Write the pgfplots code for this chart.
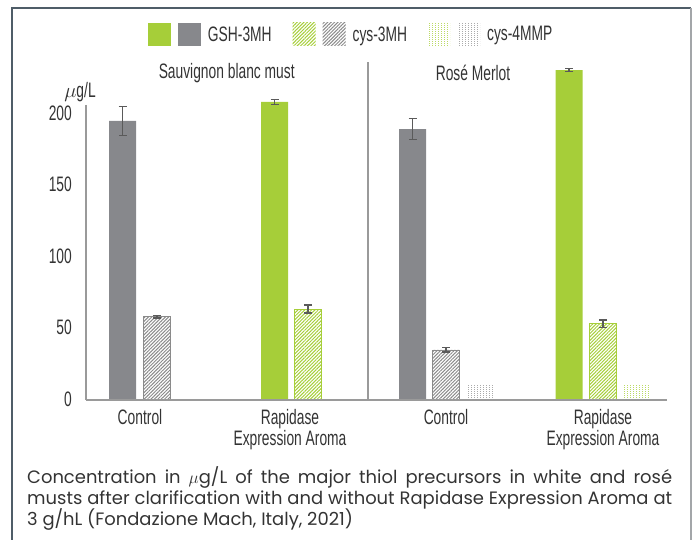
\documentclass[border=0pt]{standalone}
\usepackage{pgfplots}
\pgfplotsset{compat=1.18}
\usepackage{fontspec}
\setmainfont{Liberation Sans}
\newfontfamily\cond[FakeStretch=0.66]{Liberation Sans}
\newfontfamily\capfont{Poppins}
\usetikzlibrary{patterns,patterns.meta}
\definecolor{cgreen}{HTML}{A6CE39}
\definecolor{cgray}{HTML}{87888C}
\definecolor{sgreen}{HTML}{A6CE39}
\definecolor{sgray}{HTML}{8A8A8A}
\definecolor{dgreen}{HTML}{BCDA66}
\definecolor{dgray}{HTML}{ABABAB}
\definecolor{errc}{HTML}{5A5A5A}
\definecolor{txt}{HTML}{333333}
\definecolor{frameA}{HTML}{4F5D68}
\definecolor{frameB}{HTML}{A3A6A9}
\definecolor{axc}{HTML}{9A9A9A}
\tikzdeclarepattern{name=griddots, type=uncolored,
  bounding box={(0,0) and (3bp,1.6bp)}, tile size={(3bp,1.6bp)},
  code={\pgfpathrectangle{\pgfpointorigin}{\pgfpoint{1bp}{1.1bp}}\pgfusepath{fill}}}

\pgfplotstableread{
x y e
274.5 207.7 1.5
569 230.0 1.0
}\gshgreen
\pgfplotstableread{
x y e
122.5 194.4 10
412.5 188.8 7.5
}\gshgray
\pgfplotstableread{
x y e
308 62.9 2.8
603 52.7 2.5
}\cysgreen
\pgfplotstableread{
x y e
157 57.6 1.0
446 34.3 1.5
}\cysgray
\pgfplotstableread{
x y
637 9.1
}\mmpgreen
\pgfplotstableread{
x y
480 9.1
}\mmpgray

\begin{document}
\begin{tikzpicture}
\path[use as bounding box] (0,0) rectangle (698bp,540bp);
\draw[frameA, line width=1.5bp] (12bp,0) -- (12bp,532bp) -- (691bp,532bp);
\draw[frameB, line width=2bp] (691bp,532bp) -- (691bp,0);
\begin{axis}[
  at={(86bp,141bp)}, anchor=south west,
  scale only axis, width=581bp, height=337bp,
  xmin=86, xmax=667, ymin=0, ymax=235.66,
  clip=false,
  axis line style={draw=none},
  major tick length=0pt,
  ytick={0,50,100,150,200},
  xtick={140,290,446,603},
  xticklabels={Control,{Rapidase\\Expression Aroma},Control,{Rapidase\\Expression Aroma}},
  /pgf/number format/assume math mode=true,
  yticklabel style={anchor=east, inner sep=0pt, xshift=-14bp, font=\cond\fontsize{21}{21}\selectfont, text=txt},
  xticklabel style={anchor=north, inner sep=0pt, yshift=-10bp, align=center, font=\cond\fontsize{21}{21}\selectfont, text=txt},
  legend columns=3,
  legend style={draw=none, fill=none, inner sep=0pt, outer sep=0pt, column sep=0pt,
    at={(0.1067,1.0816)}, anchor=west,
    nodes={inner sep=0pt, anchor=west, font=\cond\fontsize{21}{21}\selectfont, text=txt}},
  error bars/error bar style={errc, line width=1.2bp},
  error bars/error mark options={errc, line width=1.2bp, mark size=4bp, rotate=90},
]
\addlegendimage{legend image code/.code={
  \path[draw=none, fill=none] (0,-11.5bp) rectangle (60bp,11.5bp);
  \fill[cgreen, draw=none] (0,-11.5bp) rectangle (23bp,11.5bp);
  \fill[cgray, draw=none] (30bp,-11.5bp) rectangle (53bp,11.5bp);}}
\addlegendentry{GSH-3MH}
\addlegendimage{legend image code/.code={
  \path[draw=none, fill=none] (0,-11.5bp) rectangle (81bp,11.5bp);
  \fill[draw=none, pattern={Lines[angle=45,distance=2.4bp,line width=1bp]}, pattern color=sgreen] (21bp,-11.5bp) rectangle (44bp,11.5bp);
  \fill[draw=none, pattern={Lines[angle=45,distance=2.4bp,line width=1bp]}, pattern color=sgray] (51bp,-11.5bp) rectangle (74bp,11.5bp);}}
\addlegendentry{cys-3MH}
\addlegendimage{legend image code/.code={
  \path[draw=none, fill=none] (0,-11.5bp) rectangle (80bp,11.5bp);
  \fill[draw=none, pattern=griddots, pattern color=dgreen] (20bp,-11.5bp) rectangle (43bp,11.5bp);
  \fill[draw=none, pattern=griddots, pattern color=dgray] (50bp,-11.5bp) rectangle (73bp,11.5bp);}}
\addlegendentry{cys-4MMP}

\addplot[ybar, bar width=27, bar shift=0pt, fill=cgreen, draw=none, forget plot,
  error bars/.cd, y dir=both, y explicit] table[x=x,y=y,y error=e] {\gshgreen};
\addplot[ybar, bar width=27, bar shift=0pt, fill=cgray, draw=none, forget plot,
  error bars/.cd, y dir=both, y explicit] table[x=x,y=y,y error=e] {\gshgray};
\addplot[ybar, bar width=27, bar shift=0pt, draw=sgreen, line width=0.5bp,
  pattern={Lines[angle=45,distance=2.4bp,line width=1bp]}, pattern color=sgreen, forget plot,
  error bars/.cd, y dir=both, y explicit] table[x=x,y=y,y error=e] {\cysgreen};
\addplot[ybar, bar width=27, bar shift=0pt, draw=sgray, line width=0.5bp,
  pattern={Lines[angle=45,distance=2.4bp,line width=1bp]}, pattern color=sgray, forget plot,
  error bars/.cd, y dir=both, y explicit] table[x=x,y=y,y error=e] {\cysgray};
\addplot[ybar, bar width=27, bar shift=0pt, draw=none,
  pattern=griddots, pattern color=dgreen, forget plot] table[x=x,y=y] {\mmpgreen};
\addplot[ybar, bar width=27, bar shift=0pt, draw=none,
  pattern=griddots, pattern color=dgray, forget plot] table[x=x,y=y] {\mmpgray};

\draw[axc, line width=1.2bp] (axis cs:86,205.6) -- (axis cs:86,-0.7);
\draw[axc, line width=1.2bp] (axis cs:86,-0.7) -- (axis cs:667,-0.7);
\draw[axc, line width=1.2bp] (axis cs:368,-0.7) -- (axis cs:368,235.66);
\node[font=\cond\fontsize{21}{21}\selectfont, text=txt] at (axis cs:226.7,228) {Sauvignon blanc must};
\node[font=\cond\fontsize{21}{21}\selectfont, text=txt] at (axis cs:473,228) {Rosé Merlot};
\node[font=\cond\fontsize{21}{21}\selectfont, text=txt] at (axis cs:80,214.9) {$\mu$g/L};
\end{axis}
\node[anchor=base west, inner sep=0pt, text=txt, font=\capfont\fontsize{18}{20}\selectfont] at (27bp,56bp)
  {\makebox[645bp][s]{Concentration in $\mu$g/L of the major thiol precursors in white and rosé}};
\node[anchor=base west, inner sep=0pt, text=txt, font=\capfont\fontsize{18}{20}\selectfont] at (27bp,35.5bp)
  {\makebox[645bp][s]{musts after clarification with and without Rapidase Expression Aroma at}};
\node[anchor=base west, inner sep=0pt, text=txt, font=\capfont\fontsize{18}{20}\selectfont] at (27bp,15bp)
  {3 g/hL (Fondazione Mach, Italy, 2021)};
\end{tikzpicture}
\end{document}
